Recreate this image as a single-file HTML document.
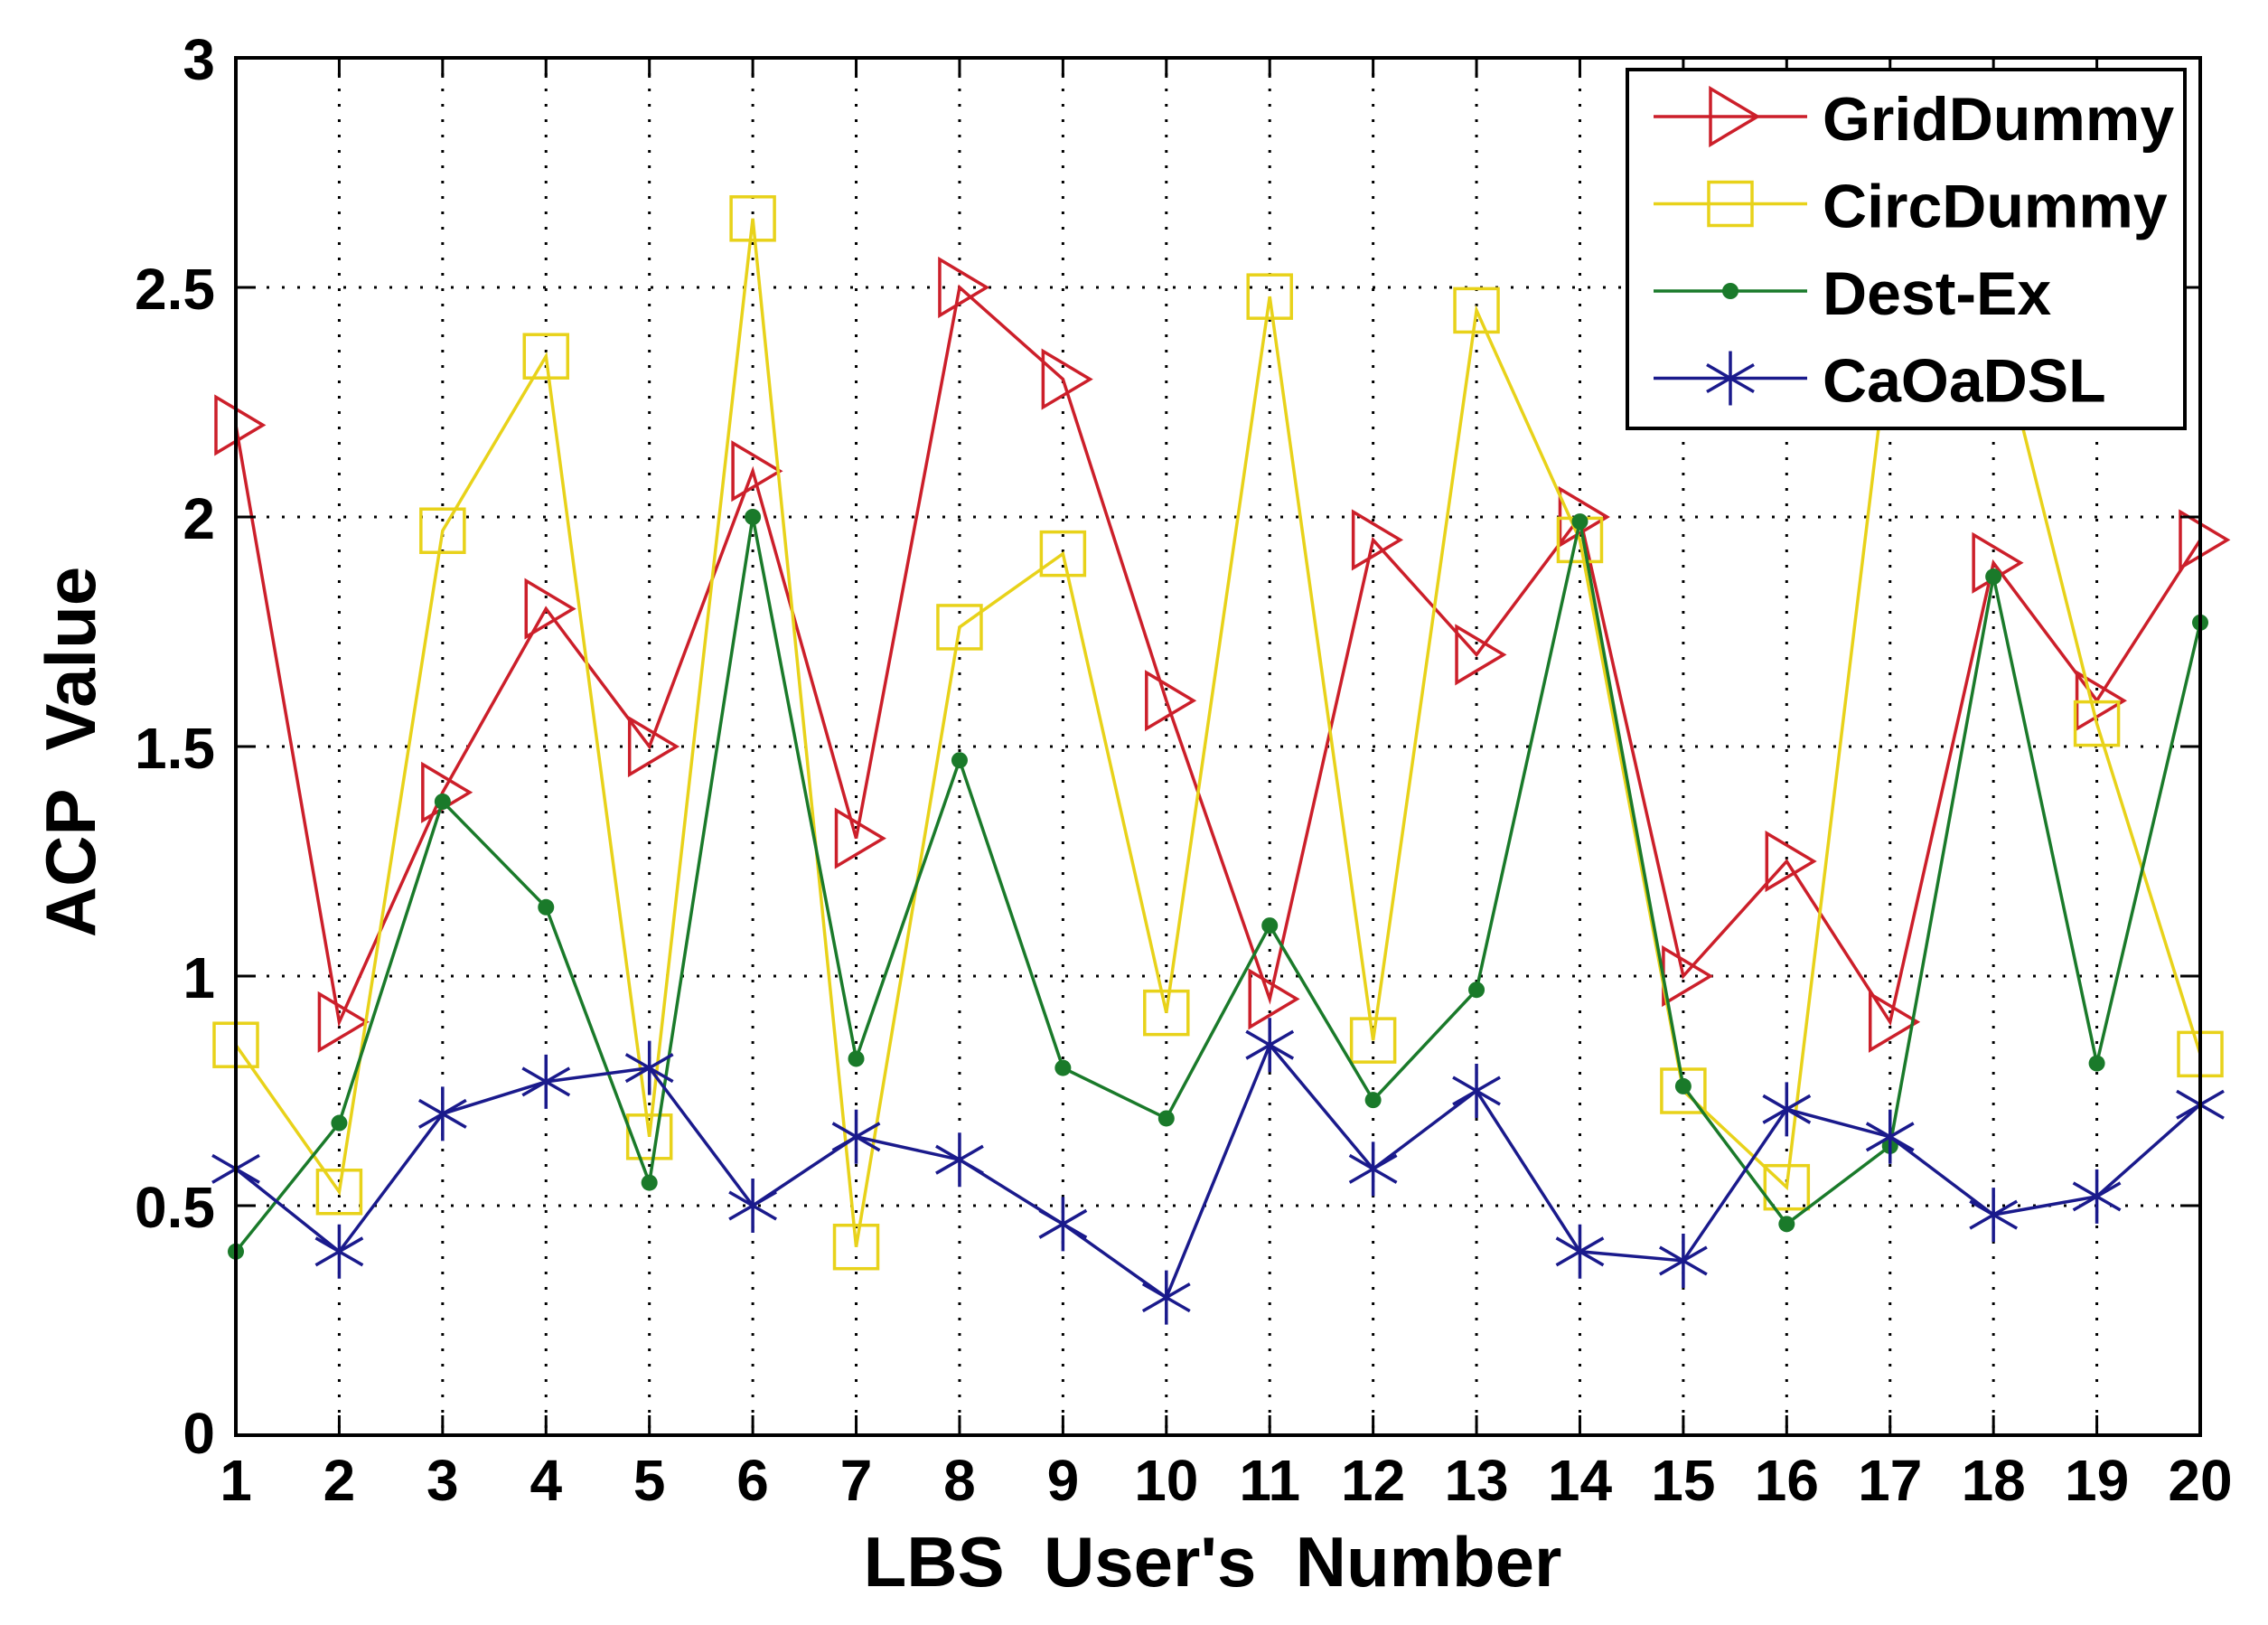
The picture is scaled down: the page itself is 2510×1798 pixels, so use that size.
<!DOCTYPE html>
<html><head><meta charset="utf-8"><style>
html,body{margin:0;padding:0;background:#fff;}
svg{display:block;font-family:"Liberation Sans",Arial,sans-serif;}
.pre{white-space:pre;}
</style></head><body>
<svg id="chart" width="2510" height="1798" viewBox="0 0 2510 1798" xmlns="http://www.w3.org/2000/svg">
<g id="grid"></g>
<g id="series"></g>
<rect x="261" y="64" width="2174" height="1524" fill="none" stroke="#000" stroke-width="4"/>
<g id="ticks"></g>
<text class="pre" x="1342" y="1755" font-size="78" font-weight="bold" text-anchor="middle">LBS  User's  Number</text>
<text class="pre" transform="translate(105,832) rotate(-90)" font-size="78" font-weight="bold" text-anchor="middle">ACP  Value</text>
<g id="legend"></g>
</svg>
<script>
const categories=[1,2,3,4,5,6,7,8,9,10,11,12,13,14,15,16,17,18,19,20];
const yTicks=[0,0.5,1,1.5,2,2.5,3];
const yTickLabels=["0","0.5","1","1.5","2","2.5","3"];
const seriesNames=["GridDummy","CircDummy","Dest-Ex","CaOaDSL"];
const gridDummy=[2.2,0.9,1.4,1.8,1.5,2.1,1.3,2.5,2.3,1.6,0.95,1.95,1.7,2.0,1.0,1.25,0.9,1.9,1.6,1.95];
const circDummy=[0.85,0.53,1.97,2.35,0.65,2.65,0.41,1.76,1.92,0.92,2.48,0.86,2.45,1.95,0.75,0.54,2.4,2.45,1.55,0.83];
const destEx=[0.4,0.68,1.38,1.15,0.55,2.0,0.82,1.47,0.8,0.69,1.11,0.73,0.97,1.99,0.76,0.46,0.63,1.87,0.81,1.77];
const caoadsl=[0.58,0.4,0.7,0.77,0.8,0.5,0.65,0.6,0.46,0.3,0.85,0.58,0.75,0.4,0.38,0.71,0.65,0.48,0.52,0.72];

const NS="http://www.w3.org/2000/svg";
const L=261,R=2435,T=64,B=1588;
const xS=v=>L+(v-1)*(R-L)/(categories.length-1);
const yS=v=>B-v*(B-T)/3;
function mk(tag,attrs,parent){const e=document.createElementNS(NS,tag);for(const k in attrs)e.setAttribute(k,attrs[k]);parent.appendChild(e);return e;}
const grid=document.getElementById('grid'),ticks=document.getElementById('ticks'),ser=document.getElementById('series'),leg=document.getElementById('legend');

categories.forEach(c=>{
  const x=xS(c);
  if(c>1&&c<20){const g=mk('line',{x1:x,x2:x,y1:T,y2:B,stroke:'#000','stroke-width':3,'stroke-dasharray':'3 14'},grid);
  
  }
  const t1=mk('line',{x1:x,x2:x,y1:B,y2:B-22,stroke:'#000','stroke-width':3},ticks);
  
  
  const t2=mk('line',{x1:x,x2:x,y1:T,y2:T+22,stroke:'#000','stroke-width':3},ticks);
  
  
  const lb=mk('text',{x:x,y:1660,'font-size':64,'font-weight':600,'text-anchor':'middle'},ticks);lb.textContent=c;
  
  
});
yTicks.forEach((v,i)=>{
  const y=yS(v);
  if(v>0&&v<3){const g=mk('line',{x1:L,x2:R,y1:y,y2:y,stroke:'#000','stroke-width':3,'stroke-dasharray':'3 14'},grid);
  
  }
  const t1=mk('line',{x1:L,x2:L+22,y1:y,y2:y,stroke:'#000','stroke-width':3},ticks);
  
  
  const t2=mk('line',{x1:R,x2:R-22,y1:y,y2:y,stroke:'#000','stroke-width':3},ticks);
  
  
  const lb=mk('text',{x:238,y:y+(v===0?20:24),'font-size':64,'font-weight':600,'text-anchor':'end'},ticks);lb.textContent=yTickLabels[i];
  
  
});

function marker(type,x,y,color,parent){
  let e;
  if(type==='tri'){e=mk('path',{d:`M${x-22} ${y-31}L${x+30} ${y}L${x-22} ${y+31}Z`,fill:'none',stroke:color,'stroke-width':3.5},parent);}
  else if(type==='sq'){e=mk('rect',{x:x-24,y:y-24,width:48,height:48,fill:'none',stroke:color,'stroke-width':3.5},parent);}
  else if(type==='dot'){e=mk('circle',{cx:x,cy:y,r:9,fill:color},parent);}
  else {e=mk('path',{d:`M${x} ${y-30}V${y+30}M${x-26} ${y-15}L${x+26} ${y+15}M${x-26} ${y+15}L${x+26} ${y-15}`,stroke:color,'stroke-width':3.5,fill:'none'},parent);}
  return e;
}
const defs=[[gridDummy,'#cc1f2a','tri'],[circDummy,'#e8d21a','sq'],[destEx,'#1a7a2a','dot'],[caoadsl,'#1a1a8c','star']];
defs.forEach((d,si)=>{
  const [vals,color,type]=d;
  const g=mk('g',{},ser);
  
  
  const pl=mk('polyline',{points:vals.map((v,i)=>xS(categories[i])+','+yS(v)).join(' '),fill:'none',stroke:color,'stroke-width':3.5},g);
  
  
  vals.forEach((v,i)=>{const m=marker(type,xS(categories[i]),yS(v),color,g);
    
    });
});
// legend
const bx=mk('rect',{x:1801,y:77,width:617,height:397,fill:'#fff',stroke:'#000','stroke-width':4},leg);


defs.forEach((d,i)=>{
  const y=77+52+i*96.5;
  const g=mk('g',{},leg);
  
  
  mk('line',{x1:1830,x2:2000,y1:y,y2:y,stroke:d[1],'stroke-width':3.5},g);
  marker(d[2],1915,y,d[1],g);
  const t=mk('text',{x:2017,y:y+26,'font-size':68,'font-weight':'bold'},g);t.textContent=seriesNames[i];
});
</script>
</body></html>
